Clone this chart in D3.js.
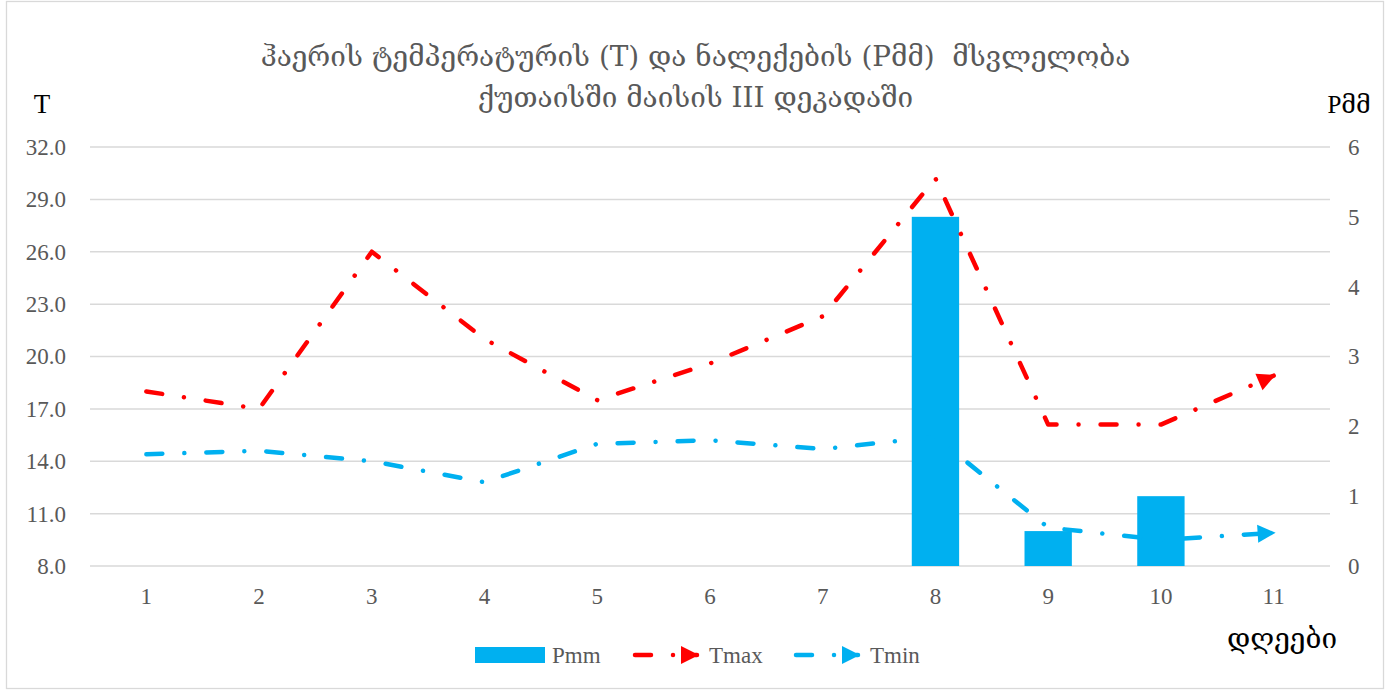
<!DOCTYPE html>
<html><head><meta charset="utf-8">
<script src="https://cdn.jsdelivr.net/npm/d3@7"></script>
<style>
html,body{margin:0;padding:0;background:#fff;}
svg{display:block;}
</style></head>
<body>
<script>
const days = ["1","2","3","4","5","6","7","8","9","10","11"];
const pmm  = [0,0,0,0,0,0,0,5.0,0.5,1.0,0];
const tmax = [18.0,17.0,26.0,21.0,17.5,19.6,22.3,30.2,16.1,16.1,18.9];
const tmin = [14.4,14.6,14.0,12.8,15.0,15.2,14.7,15.4,10.2,9.5,9.9];
const leftTicks  = [8,11,14,17,20,23,26,29,32];
const rightTicks = [0,1,2,3,4,5,6];
const titleLines = ["ჰაერის ტემპერატურის (T) და ნალექების (Pმმ)  მსვლელობა","ქუთაისში მაისის III დეკადაში"];
const legendNames = ["Pmm","Tmax","Tmin"];

const W=1391,H=691;
const plot={left:90,right:1330,top:147,bottom:566};
const RED="#FF0000",BLUE="#00B0F0",GRID="#d9d9d9",TXT="#595959";
const serif="'Liberation Serif','DejaVu Serif',serif";
const geo="'DejaVu Serif','DejaVu Sans',serif";

const svg=d3.select("body").append("svg").attr("width",W).attr("height",H);
svg.append("rect").attr("x",6.5).attr("y",1.5).attr("width",1377).attr("height",687)
  .attr("fill","#fff").attr("stroke",GRID).attr("stroke-width",1.3);

const x=d3.scaleBand().domain(days).range([plot.left,plot.right]).paddingInner(0.58).paddingOuter(0.29);
const xc=d=>x(d)+x.bandwidth()/2;
const yL=d3.scaleLinear().domain([8,32]).range([plot.bottom,plot.top]);
const yR=d3.scaleLinear().domain([0,6]).range([plot.bottom,plot.top]);

// grid
svg.append("g").selectAll("line").data(leftTicks).join("line")
  .attr("x1",plot.left).attr("x2",plot.right)
  .attr("y1",d=>yL(d)).attr("y2",d=>yL(d))
  .attr("stroke",GRID).attr("stroke-width",1.5);

// axes labels
const gl=svg.append("g").attr("transform",`translate(${plot.left},0)`)
  .call(d3.axisLeft(yL).tickValues(leftTicks).tickFormat(d3.format(".1f")).tickSize(0).tickPadding(24));
const gr=svg.append("g").attr("transform",`translate(${plot.right},0)`)
  .call(d3.axisRight(yR).tickValues(rightTicks).tickFormat(d3.format("d")).tickSize(0).tickPadding(18));
const gb=svg.append("g").attr("transform",`translate(0,${plot.bottom})`)
  .call(d3.axisBottom(x).tickSize(0).tickPadding(22));
[gl,gr,gb].forEach(g=>{
  g.select(".domain").remove();
  g.selectAll("text").attr("font-family",serif).attr("font-size",23).attr("fill",TXT);
});

// bars
svg.append("g").selectAll("rect").data(days.map((d,i)=>({d,v:pmm[i]})).filter(o=>o.v>0)).join("rect")
  .attr("x",o=>x(o.d)).attr("width",x.bandwidth())
  .attr("y",o=>yR(o.v)).attr("height",o=>yR(0)-yR(o.v))
  .attr("fill",BLUE);

// markers
const defs=svg.append("defs");
[["arrRed",RED],["arrBlue",BLUE]].forEach(([id,c])=>{
  defs.append("marker").attr("id",id).attr("markerUnits","userSpaceOnUse")
    .attr("viewBox","-20 -12 24 24").attr("refX",0).attr("refY",0)
    .attr("markerWidth",24).attr("markerHeight",24).attr("orient","auto")
    .append("path").attr("d","M-16,-9 L2,0 L-16,9 Z").attr("fill",c);
});

const dash="16 22 0.01 22";
const line=d3.line().x((d,i)=>xc(days[i])).y(d=>yL(d));
svg.append("path").datum(tmin).attr("d",line).attr("fill","none").attr("stroke",BLUE)
  .attr("stroke-width",4.5).attr("stroke-linecap","round").attr("stroke-linejoin","round")
  .attr("stroke-dasharray",dash).attr("marker-end","url(#arrBlue)");
svg.append("path").datum(tmax).attr("d",line).attr("fill","none").attr("stroke",RED)
  .attr("stroke-width",4.5).attr("stroke-linecap","round").attr("stroke-linejoin","round")
  .attr("stroke-dasharray",dash).attr("marker-end","url(#arrRed)");

// title
const tt=svg.append("g");
const targetW=870;
titleLines.forEach((t,i)=>{
  tt.append("text").attr("x",W/2).attr("y",[66,107][i]).attr("text-anchor","middle")
    .attr("font-family",geo).attr("font-size",24).attr("fill",TXT)
    .style("white-space","pre").attr("xml:space","preserve").text(t);
});
const w0=tt.select("text").node().getComputedTextLength();
const fs=24*targetW/w0;
tt.selectAll("text").attr("font-size",fs);

// axis titles
svg.append("text").attr("x",42).attr("y",113).attr("text-anchor","middle")
  .attr("font-family",serif).attr("font-size",27).attr("fill","#000").text("T");
svg.append("text").attr("x",1349).attr("y",113).attr("text-anchor","middle")
  .attr("font-family",serif).attr("font-size",25).attr("fill","#000").text("Pმმ");
svg.append("text").attr("x",1282).attr("y",648).attr("text-anchor","middle")
  .attr("font-family",geo).attr("font-size",fs).attr("fill","#000").text("დღეები");

// legend
const lg=svg.append("g");
lg.append("rect").attr("x",475).attr("y",647).attr("width",70).attr("height",16).attr("fill",BLUE);
lg.append("text").attr("x",552).attr("y",663).attr("font-family",serif).attr("font-size",23).attr("fill",TXT).text(legendNames[0]);
[[RED,"arrRed",635,legendNames[1],709],[BLUE,"arrBlue",796,legendNames[2],870]].forEach(([c,m,x0,name,tx])=>{
  lg.append("path").attr("d",`M${x0},655 L${x0+62},655`).attr("stroke",c).attr("stroke-width",4.5)
    .attr("stroke-linecap","round").attr("stroke-dasharray","16 22 0.01 22").attr("marker-end",`url(#${m})`);
  lg.append("text").attr("x",tx).attr("y",663).attr("font-family",serif).attr("font-size",23).attr("fill",TXT).text(name);
});
</script>
</body></html>
